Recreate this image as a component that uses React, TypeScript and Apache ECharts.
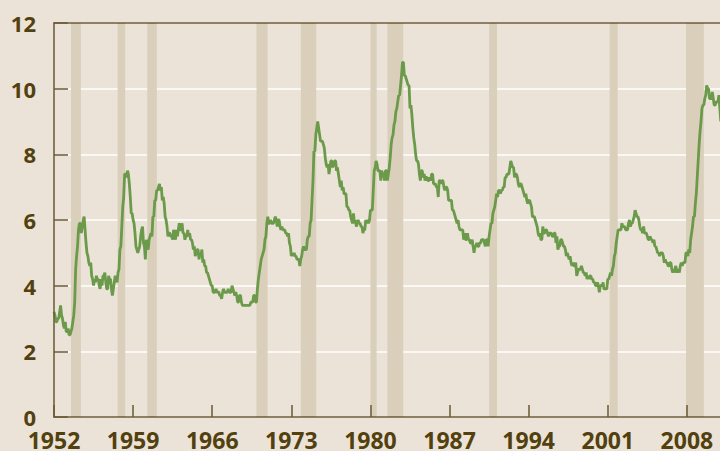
import React, { useEffect, useRef } from "react";
import * as echarts from "echarts";

// Monthly unemployment rate (%), Jan..Dec each year
const u1950s: number[][] = [
  [3.2, 3.1, 2.9, 2.9, 3.0, 3.0, 3.2, 3.4, 3.1, 3.0, 2.8, 2.7], // 1952
  [2.9, 2.6, 2.6, 2.7, 2.5, 2.5, 2.6, 2.7, 2.9, 3.1, 3.5, 4.5], // 1953
  [4.9, 5.2, 5.7, 5.9, 5.9, 5.6, 5.8, 6.0, 6.1, 5.7, 5.3, 5.0], // 1954
  [4.9, 4.7, 4.6, 4.7, 4.3, 4.2, 4.0, 4.2, 4.1, 4.3, 4.2, 4.2], // 1955
  [4.0, 3.9, 4.2, 4.0, 4.3, 4.3, 4.4, 4.1, 3.9, 3.9, 4.3, 4.2], // 1956
  [4.2, 3.9, 3.7, 3.9, 4.1, 4.3, 4.2, 4.1, 4.4, 4.5, 5.1, 5.2], // 1957
  [5.8, 6.4, 6.7, 7.4, 7.4, 7.3, 7.5, 7.4, 7.1, 6.7, 6.2, 6.2], // 1958
  [6.0, 5.9, 5.6, 5.2, 5.1, 5.0, 5.1, 5.2, 5.5, 5.7, 5.8, 5.3], // 1959
];
const u1960s: number[][] = [
  [5.2, 4.8, 5.4, 5.2, 5.1, 5.4, 5.5, 5.6, 5.5, 6.1, 6.1, 6.6],
  [6.6, 6.9, 6.9, 7.0, 7.1, 6.9, 7.0, 6.6, 6.7, 6.5, 6.1, 6.0],
  [5.8, 5.5, 5.6, 5.6, 5.5, 5.5, 5.4, 5.7, 5.6, 5.4, 5.7, 5.5],
  [5.7, 5.9, 5.7, 5.7, 5.9, 5.6, 5.6, 5.4, 5.5, 5.5, 5.7, 5.5],
  [5.6, 5.4, 5.4, 5.3, 5.1, 5.2, 4.9, 5.0, 5.1, 5.1, 4.8, 5.0],
  [4.9, 5.1, 4.7, 4.8, 4.6, 4.6, 4.4, 4.4, 4.3, 4.2, 4.1, 4.0],
  [4.0, 3.8, 3.8, 3.8, 3.9, 3.8, 3.8, 3.8, 3.7, 3.7, 3.6, 3.8],
  [3.9, 3.8, 3.8, 3.8, 3.8, 3.9, 3.8, 3.8, 3.8, 4.0, 3.9, 3.8],
  [3.7, 3.8, 3.7, 3.5, 3.5, 3.7, 3.7, 3.5, 3.4, 3.4, 3.4, 3.4],
  [3.4, 3.4, 3.4, 3.4, 3.4, 3.5, 3.5, 3.5, 3.7, 3.7, 3.5, 3.5],
];
const u1970s: number[][] = [
  [3.9, 4.2, 4.4, 4.6, 4.8, 4.9, 5.0, 5.1, 5.4, 5.5, 5.9, 6.1],
  [5.9, 5.9, 6.0, 5.9, 5.9, 5.9, 6.0, 6.1, 6.0, 5.8, 6.0, 6.0],
  [5.8, 5.7, 5.8, 5.7, 5.7, 5.7, 5.6, 5.6, 5.5, 5.6, 5.3, 5.2],
  [4.9, 5.0, 4.9, 5.0, 4.9, 4.9, 4.8, 4.8, 4.8, 4.6, 4.8, 4.9],
  [5.1, 5.2, 5.1, 5.1, 5.1, 5.4, 5.5, 5.5, 5.9, 6.0, 6.6, 7.2],
  [8.1, 8.1, 8.6, 8.8, 9.0, 8.8, 8.6, 8.4, 8.4, 8.4, 8.3, 8.2],
  [7.9, 7.7, 7.6, 7.7, 7.4, 7.6, 7.8, 7.8, 7.6, 7.7, 7.8, 7.8],
  [7.5, 7.6, 7.4, 7.2, 7.0, 7.2, 6.9, 7.0, 6.8, 6.8, 6.8, 6.4],
  [6.4, 6.3, 6.3, 6.1, 6.0, 5.9, 6.2, 5.9, 6.0, 5.8, 5.9, 6.0],
  [5.9, 5.9, 5.8, 5.8, 5.6, 5.7, 5.7, 6.0, 5.9, 6.0, 5.9, 6.0],
];
const u1980s: number[][] = [
  [6.3, 6.3, 6.3, 6.9, 7.5, 7.6, 7.8, 7.7, 7.5, 7.5, 7.5, 7.2],
  [7.5, 7.4, 7.4, 7.2, 7.5, 7.5, 7.2, 7.4, 7.6, 7.9, 8.3, 8.5],
  [8.6, 8.9, 9.0, 9.3, 9.4, 9.6, 9.8, 9.8, 10.1, 10.4, 10.8, 10.8],
  [10.4, 10.4, 10.3, 10.2, 10.1, 10.1, 9.4, 9.5, 9.2, 8.8, 8.5, 8.3],
  [8.0, 7.8, 7.8, 7.7, 7.4, 7.2, 7.5, 7.5, 7.3, 7.4, 7.2, 7.3],
  [7.3, 7.2, 7.2, 7.3, 7.2, 7.4, 7.4, 7.1, 7.1, 7.1, 7.0, 7.0],
  [6.7, 7.2, 7.2, 7.1, 7.2, 7.2, 7.0, 6.9, 7.0, 7.0, 6.9, 6.6],
  [6.6, 6.6, 6.6, 6.3, 6.3, 6.2, 6.1, 6.0, 5.9, 6.0, 5.8, 5.7],
  [5.7, 5.7, 5.7, 5.4, 5.6, 5.4, 5.4, 5.6, 5.4, 5.4, 5.3, 5.3],
  [5.4, 5.2, 5.0, 5.2, 5.2, 5.3, 5.2, 5.2, 5.3, 5.3, 5.4, 5.4],
];
const u1990s: number[][] = [
  [5.4, 5.3, 5.2, 5.4, 5.4, 5.2, 5.5, 5.7, 5.9, 5.9, 6.2, 6.3],
  [6.4, 6.6, 6.8, 6.7, 6.9, 6.9, 6.8, 6.9, 6.9, 7.0, 7.0, 7.3],
  [7.3, 7.4, 7.4, 7.4, 7.6, 7.8, 7.7, 7.6, 7.6, 7.3, 7.4, 7.4],
  [7.3, 7.1, 7.0, 7.1, 7.1, 7.0, 6.9, 6.8, 6.7, 6.8, 6.6, 6.5],
  [6.6, 6.6, 6.5, 6.4, 6.1, 6.1, 6.1, 6.0, 5.9, 5.8, 5.6, 5.5],
  [5.6, 5.4, 5.4, 5.8, 5.6, 5.6, 5.7, 5.7, 5.6, 5.5, 5.6, 5.6],
  [5.6, 5.5, 5.5, 5.6, 5.6, 5.3, 5.5, 5.1, 5.2, 5.2, 5.4, 5.4],
  [5.3, 5.2, 5.2, 5.1, 4.9, 5.0, 4.9, 4.8, 4.9, 4.7, 4.6, 4.7],
  [4.6, 4.6, 4.7, 4.3, 4.4, 4.5, 4.5, 4.5, 4.6, 4.5, 4.4, 4.4],
  [4.3, 4.4, 4.2, 4.3, 4.2, 4.3, 4.3, 4.2, 4.2, 4.1, 4.1, 4.0],
];
const u2000s: number[][] = [
  [4.0, 4.1, 4.0, 3.8, 4.0, 4.0, 4.0, 4.1, 3.9, 3.9, 3.9, 3.9],
  [4.2, 4.2, 4.3, 4.4, 4.3, 4.5, 4.6, 4.9, 5.0, 5.3, 5.5, 5.7],
  [5.7, 5.7, 5.7, 5.9, 5.8, 5.8, 5.8, 5.7, 5.7, 5.7, 5.9, 6.0],
  [5.8, 5.9, 5.9, 6.0, 6.1, 6.3, 6.2, 6.1, 6.1, 6.0, 5.8, 5.7],
  [5.7, 5.6, 5.8, 5.6, 5.6, 5.6, 5.5, 5.4, 5.4, 5.5, 5.4, 5.4],
  [5.3, 5.4, 5.2, 5.2, 5.1, 5.0, 5.0, 4.9, 5.0, 5.0, 5.0, 4.9],
  [4.7, 4.8, 4.7, 4.7, 4.6, 4.6, 4.7, 4.7, 4.5, 4.4, 4.5, 4.4],
  [4.6, 4.5, 4.4, 4.5, 4.4, 4.6, 4.7, 4.6, 4.7, 4.7, 4.7, 5.0],
  [5.0, 4.9, 5.1, 5.0, 5.4, 5.6, 5.8, 6.1, 6.1, 6.5, 6.8, 7.3],
  [7.8, 8.3, 8.7, 9.0, 9.4, 9.5, 9.5, 9.7, 9.8, 10.1, 10.0, 10.0],
];
const u2010s: number[][] = [
  [9.7, 9.7, 9.7, 9.9, 9.7, 9.5, 9.5, 9.6, 9.6, 9.6, 9.8, 9.4],
  [9.0],
];

// NBER recessions [start, end] in fractional years
const recessions: [number, number][] = [
  [1953.5, 1954.38],
  [1957.63, 1958.3],
  [1960.25, 1961.1],
  [1969.92, 1970.9],
  [1973.84, 1975.2],
  [1980.0, 1980.55],
  [1981.5, 1982.9],
  [1990.5, 1991.2],
  [2001.17, 2001.88],
  [2007.92, 2009.5],
];

const startYear = 1952;
const yTicks = { min: 0, max: 12, interval: 2 };
const xTicks = { min: 1952, max: 2015, interval: 7 };

export default function App() {
  const ref = useRef<HTMLDivElement>(null);
  useEffect(() => {
    if (!ref.current) return;
    const chart = echarts.init(ref.current, null, { renderer: "svg" });
    const all = [...u1950s, ...u1960s, ...u1970s, ...u1980s, ...u1990s, ...u2000s, ...u2010s];
    const lineData: [number, number][] = [];
    all.forEach((yr, yi) => {
      yr.forEach((v, mi) => lineData.push([startYear + yi + mi / 12, v]));
    });
    const brown = "#6b5834";
    const textColor = "#52400f";
    const labelStyle = {
      color: textColor,
      fontFamily: "Open Sans",
      fontWeight: "bold" as const,
      fontSize: 22,
    };
    chart.setOption({
      animation: false,
      backgroundColor: "#ebe3d7",
      grid: { left: 54, right: -46, top: 23, bottom: 34, outerBoundsMode: "none", containLabel: false },
      xAxis: [
        {
          type: "value",
          position: "bottom",
          ...xTicks,
          z: 5,
          axisLine: { show: true, lineStyle: { color: brown, width: 1.5 } },
          axisTick: { show: true, inside: true, length: 12, lineStyle: { color: brown, width: 1.5 } },
          axisLabel: { ...labelStyle, fontSize: 23, margin: 11, showMaxLabel: false, formatter: (v: number) => String(v) },
          splitLine: { show: false },
        },
        {
          type: "value",
          position: "top",
          ...xTicks,
          z: 5,
          axisLine: { show: true, onZero: false, lineStyle: { color: brown, width: 1.5 } },
          axisTick: { show: false },
          axisLabel: { show: false },
          splitLine: { show: false },
        },
      ],
      yAxis: [
        {
          type: "value",
          ...yTicks,
          z: 0,
          axisLine: { show: false },
          axisTick: { show: false },
          axisLabel: { show: false },
          splitLine: { show: true, lineStyle: { color: "#ffffff", width: 1.5 } },
        },
        {
          type: "value",
          position: "left",
          ...yTicks,
          z: 5,
          axisLine: { show: true, onZero: false, lineStyle: { color: brown, width: 1.5 } },
          axisTick: { show: true, inside: true, length: 14, lineStyle: { color: brown, width: 1.5 } },
          axisLabel: { ...labelStyle, margin: 18 },
          splitLine: { show: false },
        },
      ],
      series: [
        {
          type: "custom",
          z: 1,
          silent: true,
          xAxisIndex: 0,
          yAxisIndex: 0,
          data: recessions,
          encode: { x: [0, 1] },
          renderItem: (_params: any, api: any) => {
            const p0 = api.coord([api.value(0), yTicks.min]);
            const p1 = api.coord([api.value(1), yTicks.max]);
            return {
              type: "rect",
              shape: { x: p0[0], y: p1[1], width: p1[0] - p0[0], height: p0[1] - p1[1] },
              style: { fill: "#dacfbb" },
            };
          },
        },
        {
          type: "line",
          z: 3,
          xAxisIndex: 0,
          yAxisIndex: 0,
          data: lineData,
          showSymbol: false,
          symbol: "none",
          clip: true,
          lineStyle: { color: "#6a9a4a", width: 2.8 },
        },
      ],
    });
    return () => chart.dispose();
  }, []);
  return (
    <div
      style={{
        position: "fixed",
        left: 0,
        top: 0,
        width: 720,
        height: 451,
        overflow: "hidden",
        background: "#ebe3d7",
      }}
    >
      <div ref={ref} style={{ width: 720, height: 451 }} />
    </div>
  );
}
